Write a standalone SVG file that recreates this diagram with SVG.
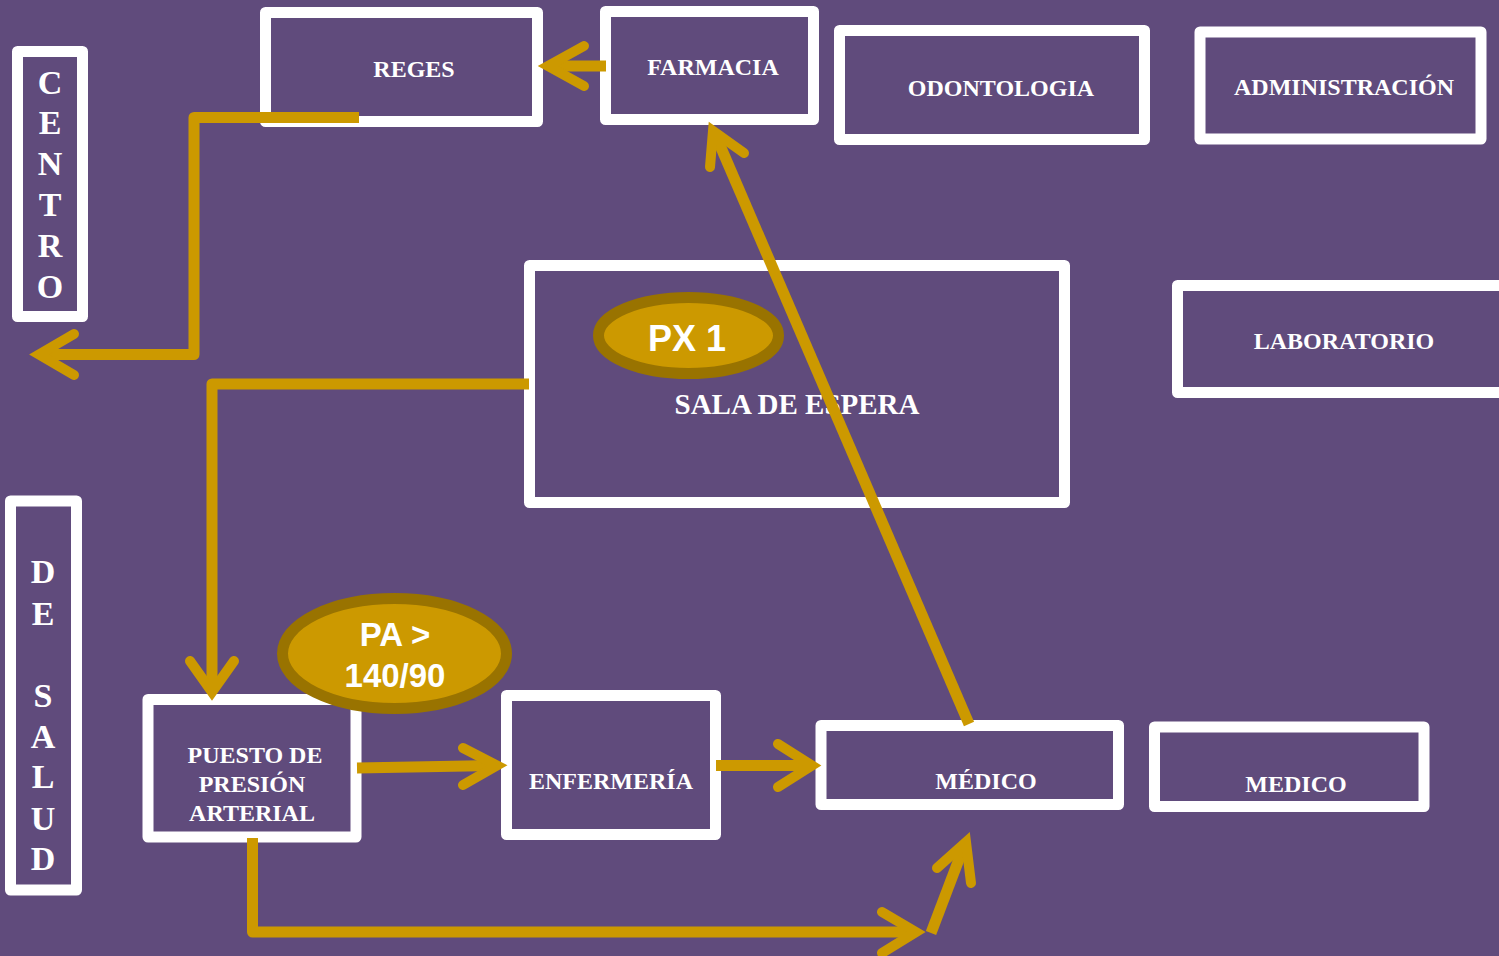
<svg xmlns="http://www.w3.org/2000/svg" width="1499" height="956" viewBox="0 0 1499 956">
<style>
.box{fill:none;stroke:#FFFFFF;stroke-width:11;stroke-linejoin:round}
.lbl{font-family:"Liberation Serif","Times New Roman",serif;font-weight:bold;font-size:24px;fill:#FFFFFF;text-anchor:middle}
.vl{font-size:34px}
.oval{fill:#CC9900;stroke:#997300;stroke-width:11}
.ot{font-family:"Liberation Sans",Arial,sans-serif;font-weight:bold;fill:#FFFFFF;text-anchor:middle}
.con{fill:none;stroke:#CC9900;stroke-width:11;stroke-linejoin:round}
.head{fill:none;stroke:#CC9900;stroke-width:10;stroke-linecap:round;stroke-linejoin:miter;stroke-miterlimit:10}
</style>
<rect width="1499" height="956" fill="#604B7C"/>
<g id="centro">
<rect class="box" x="17.5" y="51.5" width="65" height="265"/>
<text class="lbl vl" x="50" y="94">C</text>
<text class="lbl vl" x="50" y="134">E</text>
<text class="lbl vl" x="50" y="175">N</text>
<text class="lbl vl" x="50" y="216">T</text>
<text class="lbl vl" x="50" y="257">R</text>
<text class="lbl vl" x="50" y="298">O</text>
</g>
<g id="de-salud">
<rect class="box" x="10.5" y="501" width="66" height="389"/>
<text class="lbl vl" x="43" y="583">D</text>
<text class="lbl vl" x="43" y="625">E</text>
<text class="lbl vl" x="43" y="707">S</text>
<text class="lbl vl" x="43" y="748">A</text>
<text class="lbl vl" x="43" y="788">L</text>
<text class="lbl vl" x="43" y="830">U</text>
<text class="lbl vl" x="43" y="870">D</text>
</g>
<g id="reges">
<rect class="box" x="265.5" y="12.5" width="272" height="109"/>
<text class="lbl" x="414" y="77">REGES</text>
</g>
<g id="farmacia">
<rect class="box" x="605.5" y="11.5" width="208" height="108"/>
<text class="lbl" x="713" y="75">FARMACIA</text>
</g>
<g id="odontologia">
<rect class="box" x="839.5" y="30.5" width="305" height="109"/>
<text class="lbl" x="1001" y="96">ODONTOLOGIA</text>
</g>
<g id="administracion">
<rect class="box" x="1200" y="32" width="281" height="107"/>
<text class="lbl" x="1344" y="95">ADMINISTRACIÓN</text>
</g>
<g id="laboratorio">
<rect class="box" x="1177.5" y="285.5" width="340" height="107"/>
<text class="lbl" x="1344" y="349">LABORATORIO</text>
</g>
<g id="sala-de-espera">
<rect class="box" x="529.5" y="265.5" width="535" height="237"/>
<text class="lbl" x="797" y="414" style="font-size:29px">SALA DE ESPERA</text>
</g>
<g id="px1">
<ellipse class="oval" cx="688.5" cy="335.5" rx="90" ry="38"/>
<text class="ot" x="687" y="351" style="font-size:36px">PX 1</text>
</g>
<g id="puesto">
<rect class="box" x="148" y="699.5" width="208" height="137.5"/>
<text class="lbl" x="255" y="763">PUESTO DE</text>
<text class="lbl" x="252" y="792">PRESIÓN</text>
<text class="lbl" x="252" y="821">ARTERIAL</text>
</g>
<g id="pa">
<ellipse class="oval" cx="394.5" cy="653.5" rx="112" ry="55"/>
<text class="ot" x="395" y="646" style="font-size:33px">PA &gt;</text>
<text class="ot" x="395" y="687" style="font-size:33px">140/90</text>
</g>
<g id="enfermeria">
<rect class="box" x="506.5" y="695.5" width="209" height="139"/>
<text class="lbl" x="611" y="789">ENFERMERÍA</text>
</g>
<g id="medico1">
<rect class="box" x="821" y="725.5" width="297.5" height="79"/>
<text class="lbl" x="986" y="789">MÉDICO</text>
</g>
<g id="medico2">
<rect class="box" x="1154.5" y="727" width="269.5" height="79.5"/>
<text class="lbl" x="1296" y="792">MEDICO</text>
</g>
<g id="connectors">
<path class="con" d="M606 66 H552"/>
<polyline class="head" points="584,46 548,66 584,86"/>
<path class="con" d="M359 117.5 H194 V354.5 H44"/>
<polyline class="head" points="74,334 39,354.5 74,375"/>
<path class="con" d="M529 384 H212 V686"/>
<polyline class="head" points="190,661 212,692 234,661"/>
<path class="con" d="M357 768 L494 765.5"/>
<polyline class="head" points="463,748 497,765.5 463,785"/>
<path class="con" d="M716 765.5 H808"/>
<polyline class="head" points="778,744 812,765.5 778,787"/>
<path class="con" d="M969 724 L716 136"/>
<polyline class="head" points="710,167 713,131 744,153"/>
<path class="con" d="M252.5 838 V932 H912"/>
<polyline class="head" points="882,912 916,932 882,953"/>
<path class="con" d="M931 933 L964 846"/>
<polyline class="head" points="937,868 966,842 971,883"/>
</g>
</svg>
